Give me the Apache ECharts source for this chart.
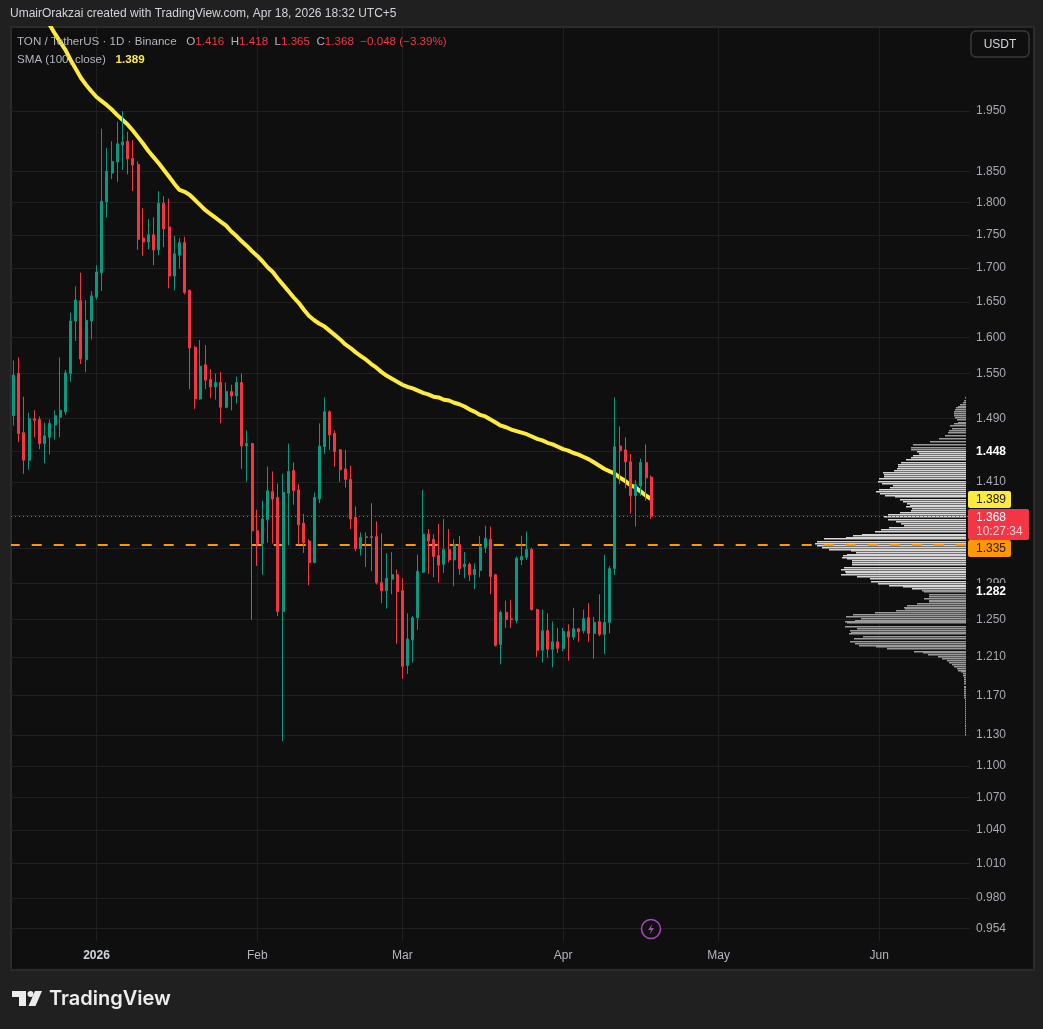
<!DOCTYPE html>
<html>
<head>
<meta charset="utf-8">
<title>TON / TetherUS</title>
<script src="https://cdn.jsdelivr.net/npm/echarts@6/dist/echarts.min.js"></script>
<style>
html,body{margin:0;padding:0;background:#202020;width:1043px;height:1029px;overflow:hidden}
#pane{position:absolute;left:10px;top:26px;width:1021px;height:941px;background:#0f0f0f;border:2px solid #2b2b2b}
#chart{position:absolute;left:0;top:0;width:1043px;height:1029px}
</style>
</head>
<body>
<div id="pane"></div>
<div id="chart"></div>
<script>
// Daily candles, from 16 Dec 2025 to 18 Apr 2026
var opens = [
1.494,1.550,1.472,1.437,1.490,1.489,1.458,1.466,1.482,1.492,
1.499,1.550,1.623,1.652,1.569,1.623,1.657,1.693,1.801,1.847,
1.865,1.893,1.899,1.871,1.861,1.745,1.739,1.750,1.727,1.799,
1.762,1.688,1.719,1.738,1.667,1.586,1.516,1.562,1.542,1.532,
1.538,1.505,1.526,1.520,1.538,1.455,1.458,1.351,1.336,1.364,
1.398,1.391,1.259,1.396,1.424,1.400,1.360,1.339,1.314,1.389,
1.454,1.499,1.471,1.450,1.426,1.413,1.367,1.330,1.343,1.344,
1.344,1.291,1.282,1.295,1.300,1.282,1.201,1.228,1.252,1.303,
1.347,1.341,1.322,1.312,1.329,1.317,1.335,1.309,1.312,1.300,
1.305,1.331,1.341,1.300,1.223,1.258,1.251,1.249,1.317,1.320,
1.329,1.261,1.217,1.238,1.218,1.226,1.219,1.237,1.231,1.240,
1.238,1.252,1.235,1.248,1.234,1.247,1.307,1.455,1.450,1.435,
1.393,1.405,1.434,1.416];
var highs = [
1.568,1.572,1.519,1.498,1.501,1.493,1.485,1.489,1.501,1.572,
1.555,1.635,1.673,1.693,1.653,1.666,1.704,1.920,1.888,1.899,
1.932,1.950,1.915,1.901,1.866,1.791,1.774,1.777,1.818,1.810,
1.806,1.748,1.745,1.747,1.668,1.588,1.596,1.589,1.556,1.550,
1.552,1.538,1.535,1.546,1.550,1.475,1.459,1.376,1.387,1.429,
1.423,1.408,1.420,1.458,1.434,1.407,1.371,1.341,1.397,1.484,
1.518,1.501,1.475,1.451,1.450,1.430,1.380,1.349,1.349,1.384,
1.362,1.348,1.325,1.326,1.306,1.296,1.257,1.254,1.323,1.400,
1.353,1.347,1.359,1.365,1.353,1.341,1.345,1.326,1.314,1.313,
1.345,1.357,1.356,1.301,1.260,1.271,1.272,1.321,1.345,1.350,
1.331,1.262,1.261,1.257,1.248,1.241,1.241,1.245,1.263,1.241,
1.261,1.268,1.253,1.278,1.323,1.310,1.518,1.480,1.466,1.445,
1.412,1.439,1.457,1.418];
var lows = [
1.481,1.460,1.420,1.425,1.466,1.451,1.433,1.444,1.463,1.466,
1.495,1.539,1.595,1.563,1.552,1.597,1.654,1.666,1.777,1.837,
1.833,1.852,1.845,1.818,1.727,1.718,1.728,1.704,1.719,1.731,
1.670,1.667,1.699,1.661,1.529,1.503,1.515,1.529,1.517,1.515,
1.484,1.504,1.501,1.510,1.426,1.410,1.250,1.310,1.300,1.337,
1.336,1.254,1.124,1.334,1.382,1.335,1.325,1.288,1.313,1.384,
1.445,1.450,1.429,1.410,1.403,1.353,1.327,1.322,1.309,1.304,
1.289,1.268,1.262,1.278,1.224,1.187,1.192,1.204,1.239,1.302,
1.301,1.297,1.291,1.302,1.314,1.287,1.300,1.296,1.293,1.284,
1.297,1.325,1.278,1.221,1.202,1.241,1.241,1.246,1.311,1.317,
1.260,1.210,1.204,1.209,1.199,1.214,1.216,1.206,1.228,1.226,
1.235,1.226,1.208,1.232,1.213,1.235,1.300,1.407,1.402,1.371,
1.356,1.393,1.387,1.365];
var closes = [
1.548,1.471,1.437,1.490,1.488,1.458,1.468,1.484,1.494,1.501,
1.551,1.623,1.653,1.570,1.624,1.659,1.694,1.802,1.850,1.866,
1.895,1.898,1.870,1.860,1.743,1.739,1.750,1.727,1.799,1.759,
1.688,1.721,1.738,1.664,1.585,1.516,1.560,1.541,1.532,1.538,
1.505,1.526,1.520,1.538,1.455,1.458,1.351,1.336,1.365,1.399,
1.389,1.259,1.397,1.423,1.399,1.358,1.337,1.314,1.391,1.455,
1.499,1.469,1.448,1.425,1.413,1.365,1.330,1.343,1.344,1.343,
1.291,1.282,1.296,1.300,1.281,1.200,1.229,1.252,1.304,1.347,
1.339,1.321,1.311,1.329,1.317,1.335,1.307,1.312,1.300,1.306,
1.332,1.342,1.298,1.222,1.258,1.250,1.250,1.319,1.321,1.329,
1.261,1.217,1.238,1.218,1.226,1.219,1.237,1.231,1.240,1.237,
1.251,1.235,1.247,1.234,1.247,1.307,1.454,1.449,1.435,1.393,
1.407,1.434,1.415,1.368];
// SMA(100) on close, read for each candle (first values are above the visible range)
var sma = [
null,null,null,null,null,null,2.117,2.102,2.086,2.071,
2.057,2.039,2.023,2.007,1.995,1.984,1.974,1.967,1.960,1.952,
1.943,1.935,1.927,1.917,1.906,1.895,1.883,1.873,1.863,1.852,
1.841,1.830,1.820,1.817,1.812,1.804,1.796,1.788,1.782,1.776,
1.770,1.764,1.755,1.748,1.740,1.733,1.725,1.718,1.710,1.701,
1.694,1.684,1.675,1.666,1.657,1.649,1.639,1.630,1.624,1.619,
1.615,1.609,1.603,1.597,1.590,1.585,1.579,1.574,1.569,1.563,
1.558,1.552,1.547,1.543,1.539,1.535,1.532,1.530,1.527,1.524,
1.522,1.519,1.518,1.515,1.514,1.511,1.509,1.506,1.502,1.499,
1.495,1.493,1.489,1.485,1.481,1.479,1.476,1.474,1.472,1.470,
1.467,1.464,1.462,1.459,1.457,1.454,1.451,1.449,1.446,1.444,
1.441,1.438,1.434,1.430,1.426,1.423,1.420,1.415,1.411,1.406,
1.403,1.398,1.393,1.389];
// Volume profile: price of each row and relative volume
var vpPrices = [
1.517,1.513,1.511,1.508,1.506,1.504,1.501,1.499,1.496,1.493,1.491,1.488,1.485,1.483,
1.480,1.477,1.474,1.471,1.468,1.464,1.460,1.456,1.453,1.450,1.447,1.445,1.442,1.440,
1.437,1.434,1.431,1.428,1.426,1.424,1.421,1.419,1.416,1.413,1.410,1.407,1.405,1.402,
1.400,1.397,1.395,1.393,1.391,1.388,1.386,1.383,1.381,1.379,1.377,1.375,1.372,1.370,
1.367,1.364,1.361,1.359,1.357,1.354,1.352,1.349,1.346,1.345,1.343,1.341,1.338,1.335,
1.333,1.331,1.329,1.327,1.325,1.323,1.321,1.319,1.318,1.316,1.314,1.311,1.308,1.305,
1.303,1.302,1.300,1.298,1.295,1.292,1.290,1.287,1.286,1.284,1.282,1.280,1.277,1.275,
1.273,1.271,1.269,1.267,1.265,1.263,1.262,1.259,1.257,1.255,1.253,1.251,1.249,1.247,
1.246,1.242,1.240,1.238,1.236,1.234,1.231,1.229,1.226,1.224,1.222,1.220,1.218,1.215,
1.214,1.212,1.210,1.208,1.206,1.204,1.201,1.199,1.197,1.195,1.194,1.192,1.190,1.188,
1.186,1.184,1.182,1.179,1.177,1.175,1.173,1.171,1.169,1.167,1.165,1.163,1.161,1.159,
1.157,1.155,1.153,1.151,1.149,1.147,1.145,1.143,1.141,1.139,1.138,1.136,1.134,1.132,1.130];
var vpVolumes = [
1,2,3,6,8,10,11,12,12,12,11,9,8,12,
16,14,17,18,21,27,36,53,55,55,49,47,53,55,
60,65,68,68,69,72,83,82,82,87,88,84,73,76,
87,90,86,81,71,66,63,59,56,60,54,55,66,78,
82,78,70,65,62,77,85,91,104,113,120,142,149,151,
149,144,137,115,110,119,123,124,119,114,114,114,122,125,
121,120,125,109,96,95,88,77,63,54,44,42,37,37,
42,37,37,49,59,62,61,70,91,113,120,105,111,121,
119,121,109,116,115,117,103,112,116,111,107,90,79,52,
43,38,28,24,19,17,14,12,9,8,5,3,3,2,
2,2,2,2,2,2,2,2,2,2,1,1,1,1,
1,1,1,1,1,1,1,1,1,1,1,1,1,1,1];
var vaHigh = 1.448, vaLow = 1.283;
// Axis
var priceMin = 0.9438, priceMax = 2.0968;
var gridPrices = [1.95,1.85,1.8,1.75,1.7,1.65,1.6,1.55,1.49,1.448,1.41,1.37,1.33,1.29,1.25,1.21,1.17,1.13,1.1,1.07,1.04,1.01,0.98,0.954];
var labelPrices = [1.95,1.85,1.8,1.75,1.7,1.65,1.6,1.55,1.49,1.41,1.29,1.25,1.21,1.17,1.13,1.1,1.07,1.04,1.01,0.98,0.954];
var startDate = Date.UTC(2025, 11, 16), dayCount = 185;
var monthNames = {'2026-01-01':'2026','2026-02-01':'Feb','2026-03-01':'Mar','2026-04-01':'Apr','2026-05-01':'May','2026-06-01':'Jun'};
// Levels and tags
var lastPrice = 1.368, pocPrice = 1.335;
var tagPrices = [1.448, 1.282, 1.389, 1.335, 1.368];
var tagTexts = ['1.448', '1.282', '1.389', '1.335', '1.368'];
var countdown = '10:27:34';

var FONT = '"Liberation Sans", Arial, sans-serif';
var UP = '#089981', DOWN = '#F23645', YEL = '#FFEB3B', ORG = '#FF9800', GRID = '#202020';

var days = [];
for (var d = 0; d < dayCount; d++) days.push(new Date(startDate + d * 864e5).toISOString().slice(0, 10));
var candles = opens.map(function (o, i) { return [o, closes[i], lows[i], highs[i]]; });
var vpData = vpPrices.map(function (p, i) { return [vpVolumes[i], p]; });
var tagData = tagPrices.map(function (p) { return [0, p]; });
var tagStyle = [
  {fill:'#0f0f0f', ink:'#ffffff', bold:true, top:-8, h:18, w:43},
  {fill:'#0f0f0f', ink:'#ffffff', bold:true, top:-8, h:18, w:43},
  {fill:YEL, ink:'#1c1c1c', top:-8, h:17, w:43},
  {fill:ORG, ink:'#1c1c1c', top:-4, h:17, w:43},
  {fill:DOWN, ink:'#ffffff', top:-7, h:31, w:61, second:countdown}
];

var chart = echarts.init(document.getElementById('chart'), null, {renderer:'canvas'});
var plain = {fontSize:11.6, fontFamily:FONT, fontWeight:'normal'};
chart.setOption({
  animation:false,
  backgroundColor:'transparent',
  textStyle:{fontFamily:FONT},
  title:[
    {text:'UmairOrakzai created with TradingView.com, Apr 18, 2026 18:32 UTC+5', left:10, top:8, z:30, padding:0,
      textStyle:{color:'#d1d4dc', fontSize:12, fontWeight:'normal', fontFamily:FONT}},
    {text:'{g|TON / TetherUS · 1D · Binance}{g|   O}{r|1.416}{g|  H}{r|1.418}{g|  L}{r|1.365}{g|  C}{r|1.368}{r|  −0.048 (−3.39%)}',
      left:17, top:36, z:30, padding:0,
      textStyle:Object.assign({rich:{g:Object.assign({color:'#b2b5be'}, plain), r:Object.assign({color:DOWN}, plain)}}, plain)},
    {text:'{g|SMA (100, close)}{y|   1.389}', left:17, top:54, z:30, padding:0,
      textStyle:Object.assign({rich:{g:Object.assign({color:'#b2b5be'}, plain), y:{color:YEL, fontSize:11.6, fontWeight:'bold', fontFamily:FONT}}}, plain)}
  ],
  grid:{left:11, right:73, top:28, bottom:88, containLabel:false},
  xAxis:[
    {type:'category', data:days, boundaryGap:true,
      axisLine:{show:false}, axisTick:{show:false},
      axisLabel:{color:'#b2b5be', fontSize:12, margin:9, fontFamily:FONT, hideOverlap:false,
        interval:function (i, v) { return !!monthNames[v]; },
        formatter:function (v) { return monthNames[v] === '2026' ? '{b|2026}' : (monthNames[v] || ''); },
        rich:{b:{color:'#d1d4dc', fontWeight:'bold', fontSize:12, fontFamily:FONT}}},
      splitLine:{show:true, alignWithLabel:true, lineStyle:{color:GRID, width:1},
        interval:function (i, v) { return !!monthNames[v]; }}},
    {type:'value', inverse:true, min:-4, max:955, show:false, splitLine:{show:false}}
  ],
  yAxis:{type:'log', logBase:10, position:'right', min:priceMin, max:priceMax, scale:true,
    axisLine:{show:false},
    axisTick:{show:false, customValues:gridPrices},
    minorTick:{show:false}, minorSplitLine:{show:false},
    axisLabel:{color:'#a6a9b2', fontSize:12, margin:6, align:'left', fontFamily:FONT, customValues:labelPrices,
      padding:[2,0,0,0], hideOverlap:false, showMinLabel:true, showMaxLabel:true,
      formatter:function (v) { return Number(v).toFixed(3); }},
    splitLine:{show:true, lineStyle:{color:GRID, width:1}}},
  series:[
    {type:'custom', name:'Volume profile', xAxisIndex:1, yAxisIndex:0, z:2, silent:true, clip:false,
      encode:{x:0, y:1}, data:vpData,
      renderItem:function (params, api) {
        var p = api.value(1), a = api.coord([api.value(0), p]), b = api.coord([0, p]);
        var inside = p < vaHigh && p > vaLow;
        return {type:'rect', shape:{x:a[0], y:Math.round(a[1]) - 1, width:b[0] - a[0], height:1.5},
          style:{fill: inside ? '#d6d6d6' : '#9a9a9a'}};
      }},
    {type:'line', name:'SMA (100, close)', xAxisIndex:0, yAxisIndex:0, data:sma, z:4, silent:true,
      showSymbol:false, smooth:false, connectNulls:false,
      lineStyle:{color:YEL, width:4, cap:'round', join:'round'}},
    {type:'candlestick', name:'TON / TetherUS', xAxisIndex:0, yAxisIndex:0, z:5, silent:true,
      data:candles, barWidth:2.5,
      itemStyle:{color:UP, color0:DOWN, borderColor:UP, borderColor0:DOWN, borderWidth:1},
      markLine:{silent:true, symbol:'none', z:3, animation:false, precision:3, label:{show:false},
        data:[
          {yAxis:pocPrice, lineStyle:{color:ORG, width:2, type:[10,12], dashOffset:1.3}},
          {yAxis:lastPrice, lineStyle:{color:DOWN, width:1, type:[1,3]}}
        ]}},
    {type:'custom', name:'Price tags', xAxisIndex:0, yAxisIndex:0, z:20, silent:true, clip:false,
      encode:{x:0, y:1}, data:tagData,
      renderItem:function (params, api) {
        var i = params.dataIndex, s = tagStyle[i], y = Math.round(api.coord([0, api.value(1)])[1]);
        var left = params.coordSys.x + params.coordSys.width - 2;
        var font = (s.bold ? 'bold ' : '') + '12px ' + FONT;
        var kids = [
          {type:'rect', shape:{x:left, y:y + s.top, width:s.w, height:s.h, r:2}, style:{fill:s.fill}},
          {type:'text', style:{x:left + 8, y:y + s.top + 8.5, text:tagTexts[i], fill:s.ink, font:font, textAlign:'left', textVerticalAlign:'middle'}}
        ];
        if (s.second) kids.push({type:'text', style:{x:left + 8, y:y + s.top + 22.5, text:s.second, fill:'#ffd0d4', font:font, textAlign:'left', textVerticalAlign:'middle'}});
        return {type:'group', children:kids};
      }}
  ],
  graphic:[
    {type:'rect', z:30, shape:{x:971, y:31, width:58, height:26, r:5}, style:{fill:'#0f0f0f', stroke:'#3a3a3a', lineWidth:1.5}},
    {type:'text', z:31, style:{x:1000, y:44.5, text:'USDT', fill:'#d1d4dc', font:'12px ' + FONT, textAlign:'center', textVerticalAlign:'middle'}},
    {type:'circle', z:30, shape:{cx:651, cy:929, r:9.5}, style:{fill:'#0f0f0f', stroke:'#ab47bc', lineWidth:1.5}},
    {type:'polygon', z:31, shape:{points:[[652.5,923.5],[648,930],[651,930],[649.5,934.5],[654,928],[651,928]]}, style:{fill:'#ab47bc'}},
    {type:'polygon', z:30, shape:{points:[[12,991],[26,991],[26,1006],[19,1006],[19,997],[12,997]]}, style:{fill:'#ededed'}},
    {type:'circle', z:30, shape:{cx:30.5, cy:994, r:3}, style:{fill:'#ededed'}},
    {type:'polygon', z:30, shape:{points:[[35,991],[42,991],[35.5,1006],[28.5,1006]]}, style:{fill:'#ededed'}},
    {type:'text', z:30, style:{x:49, y:999, text:'TradingView', fill:'#ededed', font:'600 20px Inter, ' + FONT, textAlign:'left', textVerticalAlign:'middle'}}
  ]
});
</script>
</body>
</html>
